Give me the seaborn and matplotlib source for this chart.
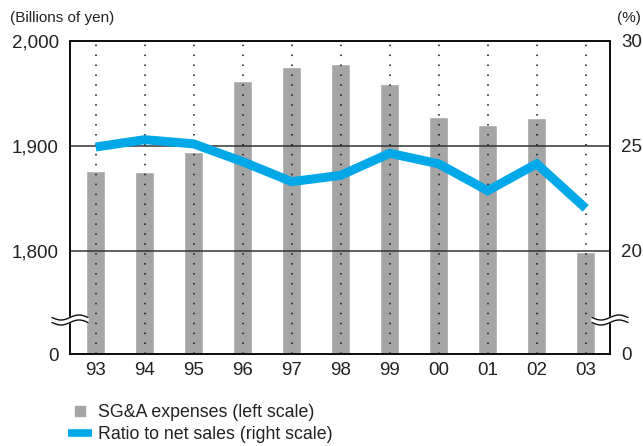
import numpy as np
import pandas as pd
import matplotlib
matplotlib.use("Agg")
import matplotlib.pyplot as plt
import matplotlib.transforms as mtransforms
from matplotlib.lines import Line2D
import seaborn as sns

years = ["93", "94", "95", "96", "97", "98", "99", "00", "01", "02", "03"]
sga_expenses = [1876, 1875, 1894, 1962, 1975, 1978, 1959, 1928, 1920, 1927, 1799]
ratio_to_sales = [24.95, 25.3, 25.1, 24.25, 23.3, 23.6, 24.65, 24.15, 22.87, 24.15, 22.03]
left_ticks = [1702, 1800, 1900, 2000]
left_labels = ["0", "1,800", "1,900", "2,000"]
right_ticks = [15.09, 20, 25, 30]
right_labels = ["0", "20", "25", "30"]

df = pd.DataFrame({"year": years, "sga": sga_expenses, "ratio": ratio_to_sales})
df["pos"] = np.arange(len(years))

sns.set_theme(style="white")
plt.rcParams["font.family"] = ["Liberation Sans", "DejaVu Sans"]
TXT = "#222222"
BAR = "#a5a5a5"
BLUE = "#00a8e8"

fig = plt.figure(figsize=(6.43, 4.46), dpi=100)
ax = fig.add_axes([70/643, 1-354/446, 540/643, 313/446])

sns.barplot(data=df, x="year", y="sga", order=years, color=BAR, width=0.39,
            saturation=1, ax=ax, zorder=1)
ax.set_xlim(-0.524, 10.496)
ax.set_ylim(1702, 2000)
ax.set_yticks(left_ticks)
ax.set_yticklabels(left_labels)
ax.set_xlabel("")
ax.set_ylabel("")
ax.tick_params(axis="both", length=0, labelsize=13.5, colors=TXT)
ax.tick_params(axis="y", pad=8)
ax.tick_params(axis="x", pad=6)

# dotted verticals and horizontal grid
for p in df["pos"]:
    ax.axvline(p, color="#111111", lw=1.1, ls=(0, (1, 5.5)), zorder=3)
for v in [1800, 1900]:
    ax.axhline(v, color="#333333", lw=1.1, zorder=2)

for s in ax.spines.values():
    s.set_color("#111111")
    s.set_linewidth(1.4)

ax2 = ax.twinx()
sns.lineplot(data=df, x="pos", y="ratio", color=BLUE, lw=6.5, ax=ax2,
             solid_joinstyle="miter", solid_capstyle="butt", zorder=5)
ax2.set_ylim(15.09, 30)
ax2.set_yticks(right_ticks)
ax2.set_yticklabels(right_labels)
ax2.set_ylabel("")
ax2.set_xlabel("")
ax2.tick_params(axis="y", length=0, labelsize=13.5, colors=TXT, pad=8)
for s in ax2.spines.values():
    s.set_color("#111111")
    s.set_linewidth(1.4)

# axis break marks
def break_mark(xfrac):
    t = np.linspace(-1, 1, 60)
    xs = t * 18 / 100
    ys = 2.5 * np.sin(np.pi * t) / 100
    gap = 5 / 100
    base = mtransforms.ScaledTranslation(xfrac, (354-320)/313, ax.transAxes)
    tr = fig.dpi_scale_trans + base
    poly_x = np.concatenate([xs, xs[::-1]])
    poly_y = np.concatenate([ys + gap/2, ys[::-1] - gap/2])
    ax2.fill(poly_x, poly_y, color="white", transform=tr, clip_on=False, zorder=10)
    ax2.plot(xs, ys + gap/2, color="#111111", lw=1, transform=tr, clip_on=False, zorder=11)
    ax2.plot(xs, ys - gap/2, color="#111111", lw=1, transform=tr, clip_on=False, zorder=11)

break_mark(0.0)
break_mark(1.0)

fig.text(10/643, 1-18/446, "(Billions of yen)", fontsize=11, color=TXT, va="center", ha="left")
fig.text(641/643, 1-18/446, "(%)", fontsize=11, color=TXT, va="center", ha="right")

handles = [Line2D([], [], marker="s", ls="none", color=BAR, markersize=7.5),
           Line2D([], [], color=BLUE, lw=5.5, solid_capstyle="butt")]
labels = ["SG&A expenses (left scale)", "Ratio to net sales (right scale)"]
fig.legend(handles, labels, loc="upper left", bbox_to_anchor=(68/643, 1-404/446),
           frameon=False, fontsize=12.8, handlelength=1.35, handletextpad=0.33,
           labelspacing=0.3, borderpad=0, borderaxespad=0, labelcolor=TXT)

fig.savefig("out.png", dpi=100)
